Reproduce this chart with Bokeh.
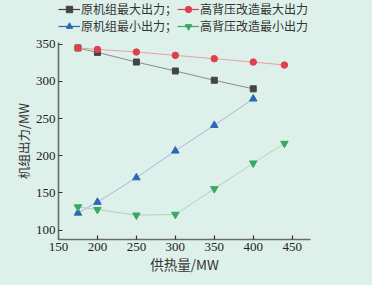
import math
from bokeh.plotting import figure
from bokeh.layouts import column
from bokeh.models import Legend, LegendItem, Range1d, FixedTicker
from bokeh.embed import file_html
from bokeh.resources import INLINE

# ---- data ----
x_orig = [175, 200, 250, 300, 350, 400]
orig_max = [345, 339, 326, 314, 301.5, 290]
orig_min = [123, 137.5, 170.5, 206.5, 241, 276.5]

x_hbp = [175, 200, 250, 300, 350, 400, 440]
hbp_max = [345, 343, 339.5, 335, 330.5, 326, 322]
hbp_min = [131, 127.5, 120, 121, 155.5, 190, 216.5]

labels = ["原机组最大出力；", "高背压改造最大出力", "原机组最小出力；", "高背压改造最小出力"]
x_ticks = [150, 200, 250, 300, 350, 400, 450]
y_ticks = [100, 150, 200, 250, 300, 350]

BG = "#ddf0ea"
SERIF = "Liberation Serif"
CJK = "Noto Sans CJK SC"

# ---- main chart ----
p = figure(width=356, height=243, output_backend="svg", toolbar_location=None,
           x_range=Range1d(150, 473.5), y_range=Range1d(87.3, 352.3),
           min_border_left=58, min_border_right=46, min_border_top=8, min_border_bottom=38)
p.background_fill_color = BG
p.border_fill_color = BG
p.outline_line_color = None
p.xgrid.visible = False
p.ygrid.visible = False

for ax in (p.xaxis[0], p.yaxis[0]):
    ax.axis_line_color = "#6b6b6b"
    ax.axis_line_width = 1.6
    ax.major_tick_line_color = "#333333"
    ax.major_tick_line_width = 1.2
    ax.major_tick_in = 4
    ax.major_tick_out = 0
    ax.minor_tick_in = 0
    ax.minor_tick_out = 0
    ax.major_label_text_font = SERIF
    ax.major_label_text_font_size = "13px"
    ax.major_label_text_color = "#222222"
    ax.axis_label_text_font = CJK
    ax.axis_label_text_font_style = "normal"
    ax.axis_label_text_color = "#333333"
    ax.axis_label_standoff = 0

p.xaxis[0].major_label_standoff = 3
p.yaxis[0].major_label_standoff = 3
p.xaxis[0].axis_label_text_font_size = "13.5px"
p.yaxis[0].axis_label_text_font_size = "12.5px"
p.xaxis[0].ticker = FixedTicker(ticks=x_ticks)
p.yaxis[0].ticker = FixedTicker(ticks=y_ticks)
p.xaxis[0].axis_label = "供热量/MW"
p.yaxis[0].axis_label = "机组出力/MW"

# ---- legend strip (separate small figure above the chart) ----
lf = figure(width=356, height=34, output_backend="svg", toolbar_location=None,
            x_range=Range1d(0, 1), y_range=Range1d(0, 1),
            x_axis_location=None, y_axis_location=None,
            min_border_left=45, min_border_right=0, min_border_top=0, min_border_bottom=0)
lf.background_fill_color = BG
lf.border_fill_color = BG
lf.outline_line_color = None
lf.xgrid.visible = False
lf.ygrid.visible = False

series = [
    (x_orig, orig_max, "#8a8a8a", "#444444", "square", 6),
    (x_hbp, hbp_max, "#eaa0a4", "#e0404e", "circle", 6.5),
    (x_orig, orig_min, "#a6b8dc", "#2c68b4", "triangle", 7.5),
    (x_hbp, hbp_min, "#a8d8b8", "#3aa862", "inverted_triangle", 7.5),
]
items = []
for (xs, ys, lc, mc, mk, sz), lab in zip(series, labels):
    p.line(xs, ys, line_color=lc, line_width=1)
    p.scatter(xs, ys, marker=mk, size=sz, fill_color=mc, line_color=mc)
    # legend glyphs (darker line + marker), no data drawn
    lr = lf.line([math.nan], [math.nan], line_color=mc, line_width=1.2)
    sr = lf.scatter([math.nan], [math.nan], marker=mk, size=sz - 1, fill_color=mc, line_color=mc)
    items.append(LegendItem(label=lab, renderers=[lr, sr]))

legend = Legend(items=items, location="top_left", orientation="horizontal", ncols=2,
                background_fill_alpha=0, border_line_color=None,
                padding=0, margin=0, spacing=-1, label_standoff=1,
                glyph_width=22, glyph_height=16, label_height=16,
                label_text_font=CJK, label_text_font_size="12px",
                label_text_color="#333333")
lf.add_layout(legend, "center")

layout = column(lf, p, spacing=0)

html = file_html(layout, INLINE)
html = html.replace("<head>", "<head><style>html,body{background:%s;} body{margin-bottom:0;overflow:hidden;}</style>" % BG, 1)
open("out.html", "w").write(html)
